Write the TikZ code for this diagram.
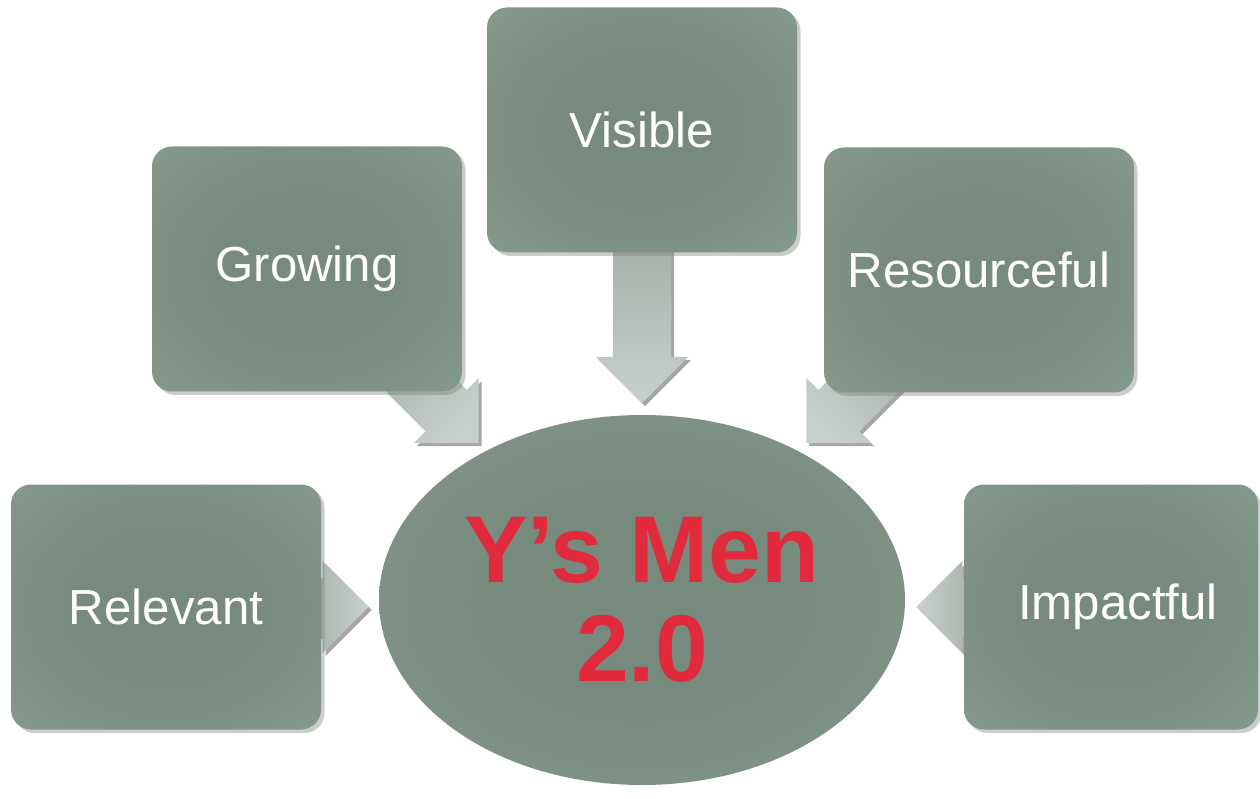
\documentclass[tikz,border=0pt]{standalone}
\usepackage{fontspec}
\setmainfont{Liberation Sans}
\usepackage{xcolor}
\usetikzlibrary{calc, shapes.geometric, shadows, backgrounds}
\definecolor{boxdark}{HTML}{778A7E}
\definecolor{boxlight}{HTML}{8FA296}
\definecolor{arrdark}{HTML}{A3AEA7}
\definecolor{arrlight}{HTML}{C8D0CB}
\definecolor{myred}{HTML}{E12A3B}

% soft dark middle, lighter rim
\pgfdeclareradialshading{boxglow}{\pgfpoint{0bp}{0bp}}{color(0bp)=(boxdark); color(14bp)=(boxdark); color(50bp)=(boxlight); color(72bp)=(boxlight)}

\tikzset{
  petal/.style={rectangle, rounded corners=2mm, minimum width=31mm, minimum height=24.5mm,
    inner sep=0pt, shade, shading=boxglow, text=white, font=\fontsize{14}{17}\selectfont,
    drop shadow={shadow xshift=0.35mm, shadow yshift=-0.35mm, opacity=0.4}},
  hub/.style={ellipse, minimum width=52.6mm, minimum height=37mm, inner sep=0pt,
    shade, shading=boxglow, text=myred, align=center, font=\fontsize{27}{28}\selectfont\bfseries},
  arrbody/.style={left color=arrdark, right color=arrlight},
  arrshadow/.style={fill=black, opacity=0.35, transform canvas={xshift=0.3mm, yshift=-0.3mm}}
}

% block arrow: tip, direction, shaft length
% (the shading does not turn with the scope, so it gets its own angle)
\newcommand{\bigarrow}[3]{%
  \pgfmathsetmacro{\shang}{#2+90}
  \begin{scope}[shift={(#1)}, rotate=#2]
    \fill[arrshadow] (0,0) -- (-46,46) -- (-46,29) -- (-46-#3,29) -- (-46-#3,-29) -- (-46,-29) -- (-46,-46) -- cycle;
    \path[arrbody, shading angle=\shang] (0,0) -- (-46,46) -- (-46,29) -- (-46-#3,29) -- (-46-#3,-29) -- (-46,-29) -- (-46,-46) -- cycle;
  \end{scope}}

\begin{document}
\begin{tikzpicture}[x=0.1mm, y=-0.1mm]
\useasboundingbox (0,0) rectangle (1260,799);

\node[petal] (vis) at (642,130) {Visible};
\node[petal] (gro) at (307,269) {Growing};
\node[petal] (res) at (979,270) {Resourceful};
\node[petal] (rel) at (166,607) {Relevant};
\node[petal, minimum width=29.4mm] (imp) at (1111,607) {\hspace*{1.4mm}Impactful};

\node[hub] (men) at (642,600) {Y's Men\\2.0};

\coordinate (tVis) at ($(vis.south)+(0,150)$);
\coordinate (tGro) at ($(gro.south east)+(16,51)$);
\coordinate (tRes) at ($(res.south west)+(-17,50)$);
\coordinate (tRel) at ($(rel.east)+(47,0)$);
\coordinate (tImp) at ($(imp.west)+(-47,0)$);

\begin{pgfonlayer}{background}
\fill[white] (0,0) rectangle (1260,799);
\bigarrow{tVis}{-90}{130}
\bigarrow{tGro}{-45}{90}
\bigarrow{tRes}{-135}{90}
\bigarrow{tRel}{0}{20}
\bigarrow{tImp}{180}{20}
\end{pgfonlayer}
\end{tikzpicture}
\end{document}
